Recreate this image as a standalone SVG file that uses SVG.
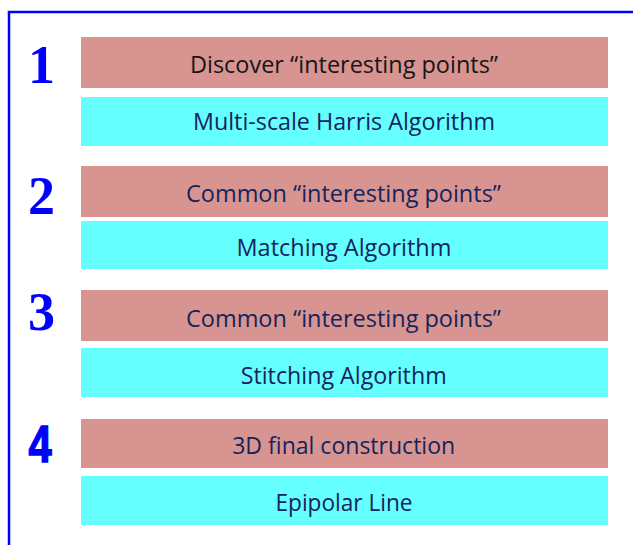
<svg xmlns="http://www.w3.org/2000/svg" width="633" height="545" viewBox="0 0 633 545">
<style>
.pink{fill:#d89490}
.cyan{fill:#66ffff}
.t{font-family:"Open Sans","Noto Sans",sans-serif;font-size:23px;text-anchor:middle;fill:#14245c}
.num{font-family:"Liberation Serif",serif;font-weight:bold;font-size:54px;fill:#0000ff;text-anchor:middle}
</style>
<rect x="0" y="0" width="633" height="545" fill="#ffffff"/>
<path d="M9,560 V12 H640" fill="none" stroke="#0000ff" stroke-width="2.5"/>
<g id="step1">
<text class="num" x="41.5" y="83">1</text>
<rect class="pink" x="81" y="37" width="527" height="51"/>
<text class="t" x="344" y="73" textLength="308" lengthAdjust="spacingAndGlyphs" style="fill:#161616">Discover “interesting points”</text>
<rect class="cyan" x="81" y="97" width="527" height="49"/>
<text class="t" x="344" y="130" textLength="302" lengthAdjust="spacingAndGlyphs">Multi-scale Harris Algorithm</text>
</g>
<g id="step2">
<text class="num" x="41.5" y="214">2</text>
<rect class="pink" x="81" y="166" width="527" height="51"/>
<text class="t" x="343.5" y="201.7" textLength="315" lengthAdjust="spacingAndGlyphs">Common “interesting points”</text>
<rect class="cyan" x="81" y="221" width="527" height="48"/>
<text class="t" x="344" y="255.7" textLength="215" lengthAdjust="spacingAndGlyphs">Matching Algorithm</text>
</g>
<g id="step3">
<text class="num" x="41.5" y="330">3</text>
<rect class="pink" x="81" y="290" width="527" height="51"/>
<text class="t" x="343.5" y="326.7" textLength="315" lengthAdjust="spacingAndGlyphs">Common “interesting points”</text>
<rect class="cyan" x="81" y="348" width="527" height="49"/>
<text class="t" x="343.7" y="384.3" textLength="206" lengthAdjust="spacingAndGlyphs">Stitching Algorithm</text>
</g>
<g id="step4">
<text x="0" y="0" transform="translate(40,461.5) scale(0.8,1)" style="font-family:'Liberation Sans',Arial,sans-serif;font-weight:bold;font-size:52px;fill:#0000ff;stroke:#0000ff;stroke-width:1.5;text-anchor:middle">4</text>
<rect class="pink" x="81" y="419" width="527" height="49"/>
<text class="t" x="343.7" y="454.3" textLength="223" lengthAdjust="spacingAndGlyphs">3D final construction</text>
<rect class="cyan" x="81" y="476" width="527" height="49"/>
<text class="t" x="344" y="510.7" textLength="137" lengthAdjust="spacingAndGlyphs">Epipolar Line</text>
</g>
<g id="connectors"></g>
</svg>
